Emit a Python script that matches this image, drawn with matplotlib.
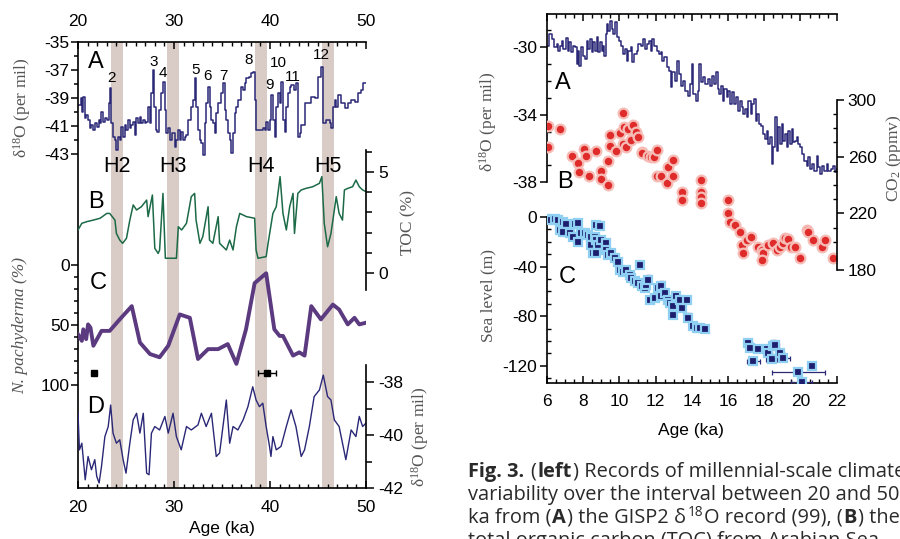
import matplotlib.pyplot as plt
import numpy as np

plt.rcParams['font.family'] = ['Liberation Sans', 'DejaVu Sans']
plt.rcParams['axes.unicode_minus'] = False
plt.rcParams['mathtext.fontset'] = 'custom'
plt.rcParams['mathtext.rm'] = 'Liberation Serif'
plt.rcParams['mathtext.it'] = 'Liberation Serif:italic'

# === DATA: left panel (20-50 ka) ===
gisp_age = [20.0, 20.28, 20.42, 20.56, 20.69, 20.87, 21.04, 21.22, 21.39, 21.56, 21.81, 22.01,
            22.15, 22.29, 22.43, 22.6, 22.78, 23.06, 23.19, 23.33, 23.47, 23.65, 23.82, 23.99,
            24.17, 24.34, 24.51, 24.69, 24.86, 25.03, 25.21, 25.38, 25.56, 25.73, 25.9, 26.08,
            26.25, 26.42, 26.6, 26.77, 26.94, 27.12, 27.29, 27.47, 27.64, 27.78, 27.92, 28.09,
            28.26, 28.44, 28.61, 28.85, 29.03, 29.2, 29.38, 29.55, 29.79, 30.07, 30.24, 30.42,
            30.59, 30.76, 30.94, 31.11, 31.28, 31.46, 31.81, 31.98, 32.15, 32.33, 32.5, 32.67,
            32.85, 33.02, 33.19, 33.37, 33.54, 33.72, 33.89, 34.06, 34.24, 34.41, 34.58, 34.86,
            35.1, 35.28, 35.45, 35.63, 35.8, 35.97, 36.15, 36.32, 36.49, 36.67, 36.94, 37.19,
            37.36, 37.53, 37.78, 37.99, 38.23, 38.4, 38.58, 38.92, 39.27, 39.44, 39.62, 39.79,
            39.97, 40.14, 40.31, 40.49, 40.66, 40.83, 41.01, 41.18, 41.35, 41.53, 41.7, 41.88,
            42.05, 42.22, 42.5, 42.74, 42.92, 43.09, 43.26, 43.61, 43.96, 44.31, 44.65, 45.0,
            45.35, 45.52, 45.87, 46.22, 46.39, 46.56, 46.74, 46.91, 47.08, 47.43, 47.78, 48.13,
            48.47, 48.82, 49.17, 49.44, 49.69, 50.0]
gisp_d18o = [-39.5, -39.02, -39.98, -38.9, -40.45, -40.21, -40.57, -41.17, -40.93, -41.29,
             -40.81, -41.05, -40.57, -40.81, -39.98, -40.69, -40.45, -40.57, -39.38, -38.31,
             -40.81, -41.76, -42.0, -42.71, -41.76, -42.0, -41.05, -41.76, -40.93, -41.29,
             -40.57, -41.17, -40.93, -40.69, -41.64, -40.45, -40.81, -40.33, -40.81, -40.57,
             -40.81, -40.69, -39.62, -40.81, -38.67, -37.0, -39.62, -41.29, -41.4, -39.86,
             -38.67, -37.83, -39.86, -41.52, -41.17, -42.0, -41.52, -42.48, -42.0, -41.29,
             -42.0, -41.4, -42.0, -41.76, -41.64, -40.57, -39.62, -39.14, -37.6, -39.62, -41.29,
             -42.0, -42.24, -43.07, -40.81, -39.38, -38.19, -39.62, -40.57, -40.81, -41.52,
             -40.1, -39.38, -38.67, -37.95, -39.86, -40.57, -41.52, -42.0, -42.95, -41.52,
             -40.1, -39.62, -39.14, -38.19, -38.43, -37.95, -37.6, -37.48, -37.24, -37.12,
             -39.14, -41.29, -41.29, -41.17, -41.29, -40.69, -41.29, -40.57, -38.79, -40.57,
             -41.76, -39.62, -38.67, -39.38, -37.83, -40.57, -41.4, -39.62, -38.67, -38.19,
             -38.07, -38.43, -37.95, -41.76, -41.52, -40.93, -39.38, -39.38, -38.9, -39.02,
             -37.48, -36.76, -40.81, -40.57, -40.81, -41.17, -39.62, -39.14, -39.62, -38.79,
             -39.38, -39.74, -39.38, -39.14, -39.26, -38.67, -38.43, -37.95, -37.95]

toc_age = [20.0, 20.4, 20.9, 21.6, 22.3, 23.0, 23.3, 23.85, 24.0, 24.35, 24.65, 25.05, 25.4, 25.75,
           26.1, 26.6, 27.15, 27.3, 27.75, 27.9, 28.0, 28.35, 28.5, 28.85, 29.1, 30.25, 30.45,
           30.8, 31.3, 31.8, 32.15, 32.3, 32.7, 33.0, 33.55, 33.7, 34.05, 34.6, 34.75, 35.45,
           35.8, 36.15, 36.5, 36.85, 37.55, 38.4, 38.55, 38.75, 39.6, 39.8, 40.3, 40.65, 41.05,
           41.35, 41.7, 42.05, 42.4, 42.55, 42.9, 43.25, 43.75, 44.45, 45.15, 45.4, 45.65, 46.0,
           46.35, 46.9, 47.2, 47.55, 47.75, 48.1, 48.6, 48.95, 49.3, 49.65, 50.0]
toc_pct = [2.13, 2.46, 2.54, 2.62, 2.71, 2.95, 2.95, 2.62, 1.96, 1.63, 1.47, 1.72, 2.62, 3.37,
           3.12, 3.28, 3.61, 2.79, 3.86, 2.29, 1.22, 0.97, 1.14, 3.94, 0.73, 0.73, 2.29, 2.13,
           2.46, 3.78, 3.94, 2.62, 1.47, 1.80, 3.28, 1.63, 1.47, 2.79, 1.47, 1.14, 1.63, 1.14,
           2.29, 2.95, 2.79, 2.71, 1.14, 0.73, 0.81, 1.47, 2.95, 3.28, 4.77, 2.95, 2.13, 3.28,
           3.94, 1.96, 3.94, 4.11, 4.19, 4.27, 4.44, 4.77, 2.46, 1.30, 1.96, 3.78, 2.95, 2.62,
           4.11, 4.19, 4.27, 4.60, 4.27, 4.11, 4.03]

npach_age = [20.0, 20.4, 20.55, 20.85, 21.05, 21.3, 21.6, 22.45, 23.3, 24.35, 25.6, 26.45, 27.5,
             28.5, 29.4, 30.6, 31.65, 32.5, 33.55, 34.6, 35.6, 36.5, 37.5, 38.4, 39.6, 40.45,
             41.0, 41.35, 42.4, 43.05, 43.6, 44.3, 45.3, 46.55, 47.2, 48.1, 48.8, 49.3, 50.0]
npach_pct = [57.7, 63.2, 53.6, 61.8, 49.5, 52.2, 67.3, 54.9, 54.9, 45.3, 34.3, 64.6, 74.2, 76.9,
             67.3, 41.2, 44.0, 78.3, 70.1, 70.1, 65.9, 82.4, 53.6, 15.1, 6.9, 53.6, 59.1, 59.1,
             75.5, 72.8, 75.5, 34.3, 45.3, 33.0, 37.1, 49.5, 44.0, 49.5, 48.1]
date_age = [21.7, 39.7]
date_val = [90, 90]
date_err = [0.0, 0.95]

d_age = [20.0, 20.15, 20.4, 20.75, 21.05, 21.4, 21.75, 21.95, 22.2, 22.45, 22.8, 23.15, 23.4,
         23.65, 24.0, 24.35, 24.7, 25.0, 25.4, 25.75, 26.1, 26.45, 26.8, 27.15, 27.4, 27.65,
         28.0, 28.5, 29.05, 29.4, 29.9, 30.25, 30.75, 31.3, 31.8, 32.5, 32.85, 33.35, 33.9,
         34.4, 34.75, 35.1, 35.45, 35.8, 36.15, 36.65, 37.2, 37.7, 38.2, 38.55, 38.9, 39.25,
         39.6, 39.95, 40.1, 40.3, 40.65, 41.15, 41.7, 42.2, 42.7, 43.25, 43.6, 44.1, 44.6,
         45.15, 45.55, 46.0, 46.35, 46.7, 47.2, 47.9, 48.45, 48.95, 49.3, 49.65, 50.0]
d_d18o = [-39.18, -40.56, -40.31, -41.69, -40.81, -41.31, -40.93, -41.56, -41.81, -41.18,
          -40.06, -39.68, -38.87, -39.93, -40.31, -40.18, -40.93, -41.44, -40.31, -39.43,
          -39.18, -39.93, -39.18, -41.44, -41.5, -39.93, -39.68, -39.81, -39.3, -39.93, -39.18,
          -40.06, -40.56, -39.68, -39.81, -39.62, -39.18, -39.68, -39.18, -40.81, -40.68,
          -39.68, -38.68, -40.31, -39.68, -39.81, -39.43, -38.93, -38.18, -38.68, -38.93,
          -38.8, -39.68, -40.43, -40.81, -40.06, -40.56, -40.43, -39.68, -39.05, -39.68,
          -40.81, -40.56, -39.68, -38.55, -38.3, -37.74, -38.55, -38.68, -39.43, -39.68,
          -40.93, -39.81, -40.06, -39.3, -39.68, -39.55]

heinrich = ['H2', 'H3', 'H4', 'H5']
h_start = [23.44, 29.27, 38.44, 45.4]
h_end = [24.69, 30.52, 39.69, 46.67]
is_num = ['2', '3', '4', '5', '6', '7', '8', '9', '10', '11', '12']
is_age = [23.44, 27.9, 28.85, 32.2, 33.5, 35.1, 37.75, 40.0, 40.87, 42.36, 45.3]
is_val = [-37.6, -36.4, -37.2, -37.0, -37.4, -37.4, -36.3, -38.1, -36.5, -37.5, -35.9]

# === DATA: right panel (6-22 ka) ===
hol_age = [6.0, 6.11, 6.26, 6.39, 6.53, 6.63, 6.72, 6.81, 6.9, 7.03, 7.14, 7.22, 7.33, 7.45, 7.55,
           7.64, 7.69, 7.77, 7.88, 8.01, 8.1, 8.19, 8.28, 8.38, 8.47, 8.56, 8.65, 8.74, 8.84,
           8.93, 9.02, 9.11, 9.17, 9.24, 9.3, 9.39, 9.48, 9.57, 9.66, 9.76, 9.85, 9.98, 10.09,
           10.22, 10.31, 10.4, 10.49, 10.64, 10.71, 10.83, 10.95, 11.05, 11.19, 11.32, 11.41,
           11.51, 11.64, 11.75, 11.82, 11.93, 12.06, 12.19, 12.3, 12.37, 12.48, 12.61, 12.74,
           12.85, 12.92, 13.07, 13.2, 13.29, 13.4, 13.53, 13.62, 13.77, 13.9, 13.99, 14.08,
           14.21, 14.32, 14.42, 14.51, 14.64, 14.73, 14.88, 15.01, 15.1, 15.24, 15.34, 15.43,
           15.52, 15.61, 15.71, 15.8, 15.93, 16.02, 16.13, 16.2, 16.31, 16.42, 16.53, 16.66,
           16.75, 16.85, 16.94, 17.03, 17.12, 17.25, 17.34, 17.45, 17.53, 17.62, 17.71, 17.82,
           17.95, 18.04, 18.14, 18.23, 18.32, 18.41, 18.5, 18.6, 18.69, 18.78, 18.87, 18.97,
           19.06, 19.15, 19.24, 19.33, 19.43, 19.52, 19.61, 19.7, 19.79, 19.89, 19.98, 20.07,
           20.22, 20.35, 20.44, 20.53, 20.62, 20.77, 20.9, 20.99, 21.08, 21.17, 21.32, 21.45,
           21.54, 21.69, 21.82, 21.91, 22.0]
hol_d18o = [-29.92, -29.23, -29.53, -30.02, -29.82, -30.22, -29.92, -29.63, -30.12, -29.47,
            -30.22, -29.72, -30.32, -29.92, -30.02, -31.01, -30.22, -31.1, -30.02, -30.51,
            -30.71, -29.63, -30.12, -29.53, -30.32, -29.72, -30.22, -29.43, -30.32, -29.72,
            -30.22, -29.92, -30.51, -29.23, -28.64, -29.03, -28.44, -28.93, -29.23, -28.54,
            -29.43, -29.63, -29.92, -30.41, -30.12, -30.81, -30.22, -30.02, -30.91, -30.41,
            -30.22, -29.82, -29.92, -29.53, -30.12, -29.82, -29.63, -30.22, -29.53, -29.92,
            -30.22, -30.41, -30.32, -30.81, -30.61, -31.2, -31.4, -32.39, -31.5, -31.99,
            -30.81, -31.6, -32.29, -31.99, -32.58, -32.88, -32.19, -31.01, -32.78, -33.18,
            -32.58, -31.01, -32.09, -31.79, -32.19, -31.89, -32.29, -31.7, -32.19, -31.5,
            -32.48, -32.78, -32.29, -33.18, -32.48, -32.98, -32.58, -33.37, -32.68, -33.37,
            -32.98, -33.77, -33.18, -33.57, -33.96, -33.67, -34.16, -33.18, -33.96, -33.37,
            -33.08, -34.36, -33.96, -34.56, -34.65, -35.15, -35.44, -34.95, -35.74, -35.34,
            -36.92, -35.94, -34.16, -36.13, -34.75, -35.74, -34.56, -35.54, -35.15, -35.94,
            -34.95, -35.74, -34.85, -35.64, -35.54, -35.34, -35.74, -35.94, -36.33, -36.73,
            -37.02, -36.53, -37.22, -36.92, -37.32, -36.43, -37.12, -37.51, -37.02, -37.32,
            -36.92, -37.32, -37.22, -37.02, -37.42, -37.22]

co2_age = [6.04, 6.04, 6.7, 7.38, 7.71, 7.77, 8.03, 8.14, 8.32, 8.69, 8.97, 9.0, 9.37, 9.37, 9.5,
           9.5, 9.83, 10.02, 10.24, 10.2, 10.2, 10.39, 10.48, 10.66, 10.76, 10.94, 11.03, 11.22,
           11.27, 11.59, 11.77, 11.9, 12.05, 12.05, 12.32, 12.64, 12.69, 12.97, 12.97, 13.43,
           13.43, 14.53, 14.53, 14.53, 14.53, 16.01, 16.01, 16.1, 16.38, 16.65, 16.75, 16.84,
           17.02, 17.24, 17.67, 17.85, 17.94, 17.85, 18.22, 18.5, 18.68, 18.87, 19.05, 19.14,
           19.33, 19.46, 19.7, 19.97, 20.34, 20.43, 20.71, 21.17, 21.35, 21.82]
co2_ppmv = [281.9, 267.0, 279.5, 260.5, 255.3, 249.4, 265.4, 260.5, 246.4, 264.2, 250.1, 244.2,
            257.2, 240.0, 275.3, 267.7, 264.2, 276.9, 281.2, 291.1, 268.9, 267.0, 279.3, 271.8,
            282.4, 277.6, 274.1, 263.5, 262.4, 260.5, 260.0, 259.5, 264.7, 246.4, 246.4, 241.6,
            252.9, 257.6, 246.4, 235.3, 229.4, 243.5, 235.3, 231.8, 227.1, 229.4, 220.0, 214.1,
            211.8, 207.0, 197.6, 191.8, 201.2, 203.1, 196.5, 194.1, 191.8, 187.1, 197.6, 198.8,
            194.1, 196.5, 198.8, 202.4, 201.7, 196.5, 196.5, 188.2, 208.2, 207.0, 201.2, 196.5,
            201.2, 188.2]

sl_age = [6.06, 6.24, 6.42, 6.61, 6.7, 6.88, 7.07, 6.88, 7.25, 7.44, 7.53, 7.71, 7.71, 7.9, 8.08,
          8.27, 8.45, 8.45, 8.54, 8.64, 8.73, 8.91, 8.73, 8.82, 8.73, 9.0, 9.28, 9.28, 9.37, 9.56,
          9.74, 9.93, 10.02, 10.2, 10.39, 10.57, 10.66, 10.85, 11.03, 11.12, 11.22, 11.4, 11.49,
          11.59, 11.68, 11.95, 12.14, 12.32, 12.32, 12.51, 12.69, 12.78, 12.97, 12.97, 13.15,
          13.34, 13.43, 13.71, 13.8, 14.07, 14.26, 14.44, 14.72, 17.12, 17.21, 17.39, 17.67,
          18.13, 18.22, 18.41, 18.5, 18.59, 18.87, 19.05, 19.88, 20.06, 20.62]
sl_m = [-1.3, -2.1, -1.3, -2.7, -10.7, -4.0, -5.3, -12.0, -13.3, -16.0, -5.3, -4.8, -20.0, -13.3,
        -13.3, -14.7, -16.0, -22.7, -29.3, -16.0, -6.7, -7.5, -18.7, -22.7, -29.3, -18.7, -21.3,
        -26.7, -30.7, -29.3, -33.3, -36.0, -42.7, -44.0, -42.7, -46.7, -49.3, -52.0, -53.3,
        -38.7, -56.0, -57.3, -54.7, -50.7, -66.7, -65.3, -57.3, -56.0, -64.0, -61.3, -66.7,
        -69.3, -78.7, -72.0, -64.0, -66.7, -73.3, -66.7, -81.3, -87.5, -89.3, -89.3, -90.7,
        -101.3, -105.3, -116.0, -106.7, -106.7, -109.3, -114.7, -104.0, -103.5, -109.3, -114.1,
        -125.3, -133.3, -120.0]
sl_err_up = [2, 2, 2, 2, 3, 3, 2, 2, 2, 2, 2, 2, 2, 2, 2, 3, 3, 2, 2, 3, 2, 2, 2, 2, 2, 2, 3, 2,
             2, 2, 2, 2, 2, 2, 2, 2, 2, 2, 2, 2, 2, 2, 2, 4, 2, 2, 4, 4, 2, 2, 2, 2, 2, 2, 2, 2,
             2, 2, 4, 3, 3, 2, 2, 3, 4, 2, 3, 3, 2, 2, 5, 2, 2, 2, 0, 0, 0]
sl_err_x = [0.1, 0.1, 0.1, 0.1, 0.1, 0.1, 0.1, 0.1, 0.1, 0.1, 0.1, 0.1, 0.1, 0.1, 0.1, 0.1, 0.1,
            0.1, 0.1, 0.15, 0.15, 0.15, 0.1, 0.1, 0.1, 0.1, 0.1, 0.1, 0.1, 0.1, 0.1, 0.1, 0.1,
            0.1, 0.1, 0.1, 0.1, 0.1, 0.1, 0.1, 0.1, 0.1, 0.1, 0.1, 0.1, 0.1, 0.1, 0.1, 0.1, 0.1,
            0.15, 0.15, 0.1, 0.1, 0.1, 0.1, 0.1, 0.1, 0.1, 0.15, 0.1, 0.1, 0.1, 0.2, 0.2, 0.35,
            0.2, 0.2, 0.2, 0.3, 0.2, 0.2, 0.2, 0.35, 1.45, 0.6, 0.0]

W, H = 900, 539
fig = plt.figure(figsize=(9, 5.39), dpi=100)


def fx(x):
    return x / W


def fy(y):
    return 1 - y / H


navy = '#2a2876'
tick_fs = 12.5
lab_col = '#555555'

# ---------------- LEFT PANEL ----------------
rect = [fx(78), fy(488), (366 - 78) / W, (488 - 42) / H]
axA = fig.add_axes(rect)
axB = fig.add_axes(rect)
axC = fig.add_axes(rect)
axD = fig.add_axes(rect)
for ax in (axA, axB, axC, axD):
    ax.patch.set_alpha(0)
    ax.set_xlim(20, 50)
    for s in ax.spines.values():
        s.set_visible(False)
    ax.spines[:].set_linewidth(1.2)

for a, b in zip(h_start, h_end):
    axA.axvspan(a, b, color='#d9ccc7', lw=0, zorder=0)

# A: GISP2
axA.set_ylim(-35 - 446 / 14, -35)
axA.step(gisp_age, gisp_d18o, where='post', color=navy, lw=1.1)
for s in ('left', 'top', 'bottom'):
    axA.spines[s].set_visible(True)
axA.set_xticks([20, 30, 40, 50])
axA.set_xticks(np.arange(20, 51, 1), minor=True)
axA.tick_params(axis='x', which='both', direction='in', top=True, bottom=True,
                labeltop=True, labelbottom=True, labelsize=tick_fs, pad=9)
axA.tick_params(axis='x', which='major', length=5, width=1.1)
axA.tick_params(axis='x', which='minor', length=3, width=1)
axA.set_yticks([-35, -37, -39, -41, -43])
axA.set_yticks([-36, -38, -40, -42], minor=True)
axA.tick_params(axis='y', which='both', direction='out', labelsize=tick_fs, pad=1, width=1.1)
axA.tick_params(axis='y', which='major', length=5)
axA.tick_params(axis='y', which='minor', length=3)
for n, a, v in zip(is_num, is_age, is_val):
    axA.text(a, v, n, ha='center', va='center', fontsize=11)

# B: TOC
axB.set_ylim(-(488 - 273) / 20.2, (273 - 42) / 20.2)
axB.plot(toc_age, toc_pct, color='#1c6a47', lw=1.1)
axB.spines['right'].set_visible(True)
axB.spines['right'].set_bounds(-0.85, 6.1)
axB.yaxis.tick_right()
axB.set_yticks([0, 5])
axB.set_yticks([1, 2, 3, 4, 6], minor=True)
axB.tick_params(axis='y', which='both', direction='out', labelsize=tick_fs, width=1.1, pad=3)
axB.tick_params(axis='y', which='major', length=6)
axB.tick_params(axis='y', which='minor', length=4)
axB.set_xticks([])

# C: N. pachyderma
axC.set_ylim((488 - 265) / 1.2, -(265 - 42) / 1.2)
axC.plot(npach_age, npach_pct, color='#5b3a80', lw=2.8, solid_joinstyle='round')
axC.errorbar(date_age, date_val, xerr=date_err, fmt='s', color='black', ms=4, capsize=2.5,
             elinewidth=1)
axC.set_yticks([0, 50, 100])
axC.set_yticks([10, 20, 30, 40, 60, 70, 80, 90], minor=True)
axC.tick_params(axis='y', which='both', direction='out', labelsize=tick_fs, pad=1, width=1.1)
axC.tick_params(axis='y', which='major', length=5)
axC.tick_params(axis='y', which='minor', length=3)
axC.set_xticks([])

# D: d18O
axD.set_ylim(-42, -38 + (382 - 42) / 26.5)
axD.plot(d_age, d_d18o, color=navy, lw=1.0)
axD.spines['right'].set_visible(True)
axD.spines['right'].set_bounds(-42, -37.35)
axD.yaxis.tick_right()
axD.set_yticks([-38, -40, -42])
axD.set_yticks([-39, -41], minor=True)
axD.tick_params(axis='y', which='both', direction='out', labelsize=tick_fs, width=1.1, pad=3)
axD.tick_params(axis='y', which='major', length=6)
axD.tick_params(axis='y', which='minor', length=4)
axD.set_xticks([])

for lt, x, y in [('A', 96, 62), ('B', 96, 202), ('C', 98, 283), ('D', 96, 407)]:
    fig.text(fx(x), fy(y), lt, fontsize=17, ha='center', va='center')
for h, a, b in zip(heinrich, h_start, h_end):
    fig.text(fx(78 + ((a + b) / 2 - 20) * 9.6), fy(166), h, fontsize=15.5, ha='center',
             va='center')

serif = ['Liberation Serif', 'DejaVu Serif']
fig.text(fx(22), fy(108), r'δ$^{\rm 18}$O (per mil)', rotation=90, ha='center', va='center',
         family=serif, fontsize=12.5, color=lab_col)
fig.text(fx(20), fy(326), 'N. pachyderma (%)', rotation=90, ha='center', va='center',
         family=serif, style='italic', fontsize=12.5, color=lab_col)
fig.text(fx(408), fy(222), 'TOC (%)', rotation=90, ha='center', va='center',
         family=serif, fontsize=12.5, color=lab_col)
fig.text(fx(420), fy(437), r'δ$^{\rm 18}$O (per mil)', rotation=90, ha='center', va='center',
         family=serif, fontsize=12.5, color=lab_col)
fig.text(fx(222), fy(528), 'Age (ka)', ha='center', va='center', fontsize=12.5)

# ---------------- RIGHT PANEL ----------------
rect2 = [fx(547), fy(383), (836.7 - 547) / W, (383 - 14) / H]
axR = fig.add_axes(rect2)
axSL = fig.add_axes(rect2)
axCO = fig.add_axes(rect2)
for ax in (axR, axSL, axCO):
    ax.patch.set_alpha(0)
    ax.set_xlim(6, 22)
    for s in ax.spines.values():
        s.set_visible(False)
    ax.spines[:].set_linewidth(1.2)

axR.set_ylim(-30 - (383 - 47) / 16.9, -30 + (47 - 14) / 16.9)
axR.step(hol_age, hol_d18o, where='post', color=navy, lw=1.1)
for s in ('left', 'top', 'bottom'):
    axR.spines[s].set_visible(True)
axR.spines['left'].set_bounds(-38, -30 + (47 - 14) / 16.9)
axR.set_xticks(np.arange(6, 23, 2))
axR.set_xticks(np.arange(6, 22.01, 0.5), minor=True)
axR.tick_params(axis='x', which='both', direction='in', top=True, bottom=True,
                labelsize=tick_fs, pad=8)
axR.tick_params(axis='x', which='major', length=5, width=1.1)
axR.tick_params(axis='x', which='minor', length=3, width=1)
axR.set_yticks([-30, -34, -38])
axR.set_yticks([-29, -31, -32, -33, -35, -36, -37], minor=True)
axR.tick_params(axis='y', which='major', direction='out', length=5, width=1.1,
                labelsize=tick_fs, pad=2)
axR.tick_params(axis='y', which='minor', direction='in', length=3, width=1)

axSL.set_ylim(-(383 - 217) / 1.24, (217 - 14) / 1.24)
axSL.errorbar(sl_age, sl_m, yerr=[np.zeros(len(sl_err_up)), sl_err_up], xerr=sl_err_x,
              fmt='none', ecolor=navy, elinewidth=0.9, capsize=1.8, capthick=0.9, zorder=2)
axSL.plot(sl_age, sl_m, 's', ms=5.5, mfc='#1e1e6e', mec='#8fd0f2', mew=1.6, zorder=3)
axSL.spines['left'].set_visible(True)
axSL.spines['left'].set_bounds(-(383 - 217) / 1.24, 0)
axSL.set_yticks([0, -40, -80, -120])
axSL.set_yticks([-10, -20, -30, -50, -60, -70, -90, -100, -110, -130], minor=True)
axSL.tick_params(axis='y', which='major', direction='out', length=5, width=1.1,
                 labelsize=tick_fs, pad=2)
axSL.tick_params(axis='y', which='minor', direction='in', length=3, width=1)
axSL.set_xticks([])

axCO.set_ylim(180 - (383 - 270) / 1.4167, 300 + (100 - 14) / 1.4167)
axCO.plot(co2_age, co2_ppmv, 'o', ms=7, mfc='#e02b2b', mec='#f6bcb6', mew=1.6)
axCO.spines['right'].set_visible(True)
axCO.spines['right'].set_bounds(180, 300)
axCO.yaxis.tick_right()
axCO.set_yticks([180, 220, 260, 300])
axCO.set_yticks([190, 200, 210, 230, 240, 250, 270, 280, 290], minor=True)
axCO.tick_params(axis='y', which='major', direction='out', length=5, width=1.1,
                 labelsize=tick_fs, pad=3)
axCO.tick_params(axis='y', which='minor', direction='in', length=3, width=1)
axCO.set_xticks([])

for lt, x, y in [('A', 563, 83), ('B', 565, 182), ('C', 567, 277)]:
    fig.text(fx(x), fy(y), lt, fontsize=17, ha='center', va='center')
fig.text(fx(488), fy(122), r'δ$^{\rm 18}$O (per mil)', rotation=90, ha='center', va='center',
         family=serif, fontsize=12.5, color=lab_col)
fig.text(fx(488), fy(295), 'Sea level (m)', rotation=90, ha='center', va='center',
         family=serif, fontsize=12.5, color=lab_col)
fig.text(fx(894), fy(158), r'CO$_{\rm 2}$ (ppmv)', rotation=90, ha='center', va='center',
         family=serif, fontsize=12.5, color=lab_col)
fig.text(fx(691), fy(430), 'Age (ka)', ha='center', va='center', fontsize=12.5)

# ---------------- CAPTION ----------------
cap_font = 'Open Sans'
cap_fs = 14.4
cap_col = '#2a2a2a'
renderer = fig.canvas.get_renderer()


def twidth(s, bold=False, size=cap_fs):
    t = fig.text(0, 0, s, fontsize=size, family=cap_font,
                 fontweight='bold' if bold else 'normal')
    w = t.get_window_extent(renderer).width
    t.remove()
    return w


space_w = twidth('a a') - twidth('aa')

caption = [
    [('Fig. 3.', 'b'), None, ('(', 'n'), ('left', 'b'), (') Records of millennial-scale climate', 'n')],
    [('variability over the interval between 20 and 50', 'n')],
    [('ka from (', 'n'), ('A', 'b'), (') the GISP2 δ', 'n'), ('18', 's'),
     ('O record (99), (', 'n'), ('B', 'b'), (') the', 'n')],
    [('total organic carbon (TOC) from Arabian Sea', 'n')],
]
y0 = 477
for i, line in enumerate(caption):
    x = 468
    y = y0 + i * 23
    for part in line:
        if part is None:
            x += space_w
            continue
        txt, kind = part
        size = cap_fs * 0.68 if kind == 's' else cap_fs
        yy = y - 7 if kind == 's' else y
        t = fig.text(fx(x), fy(yy), txt, fontsize=size, family=cap_font, color=cap_col,
                     fontweight='bold' if kind == 'b' else 'normal', va='baseline')
        x += t.get_window_extent(renderer).width + 1

fig.savefig('out.png', dpi=100)
